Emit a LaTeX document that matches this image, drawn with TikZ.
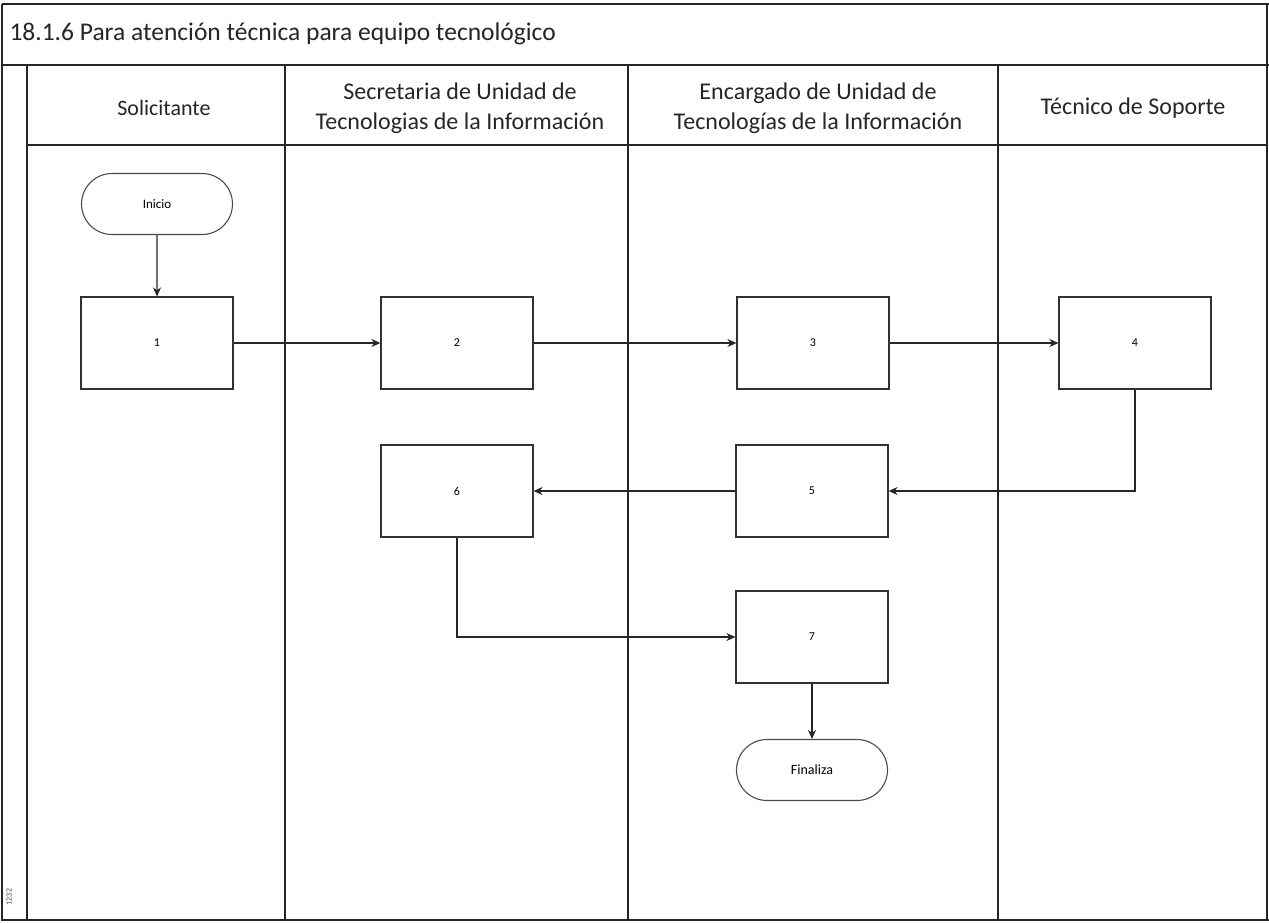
\documentclass[tikz,border=0pt]{standalone}
\usepackage{fontspec}
\setmainfont{Carlito}
\usetikzlibrary{arrows.meta,shapes.misc}
\begin{document}
\begin{tikzpicture}[x=1pt,y=-1pt,
  frame/.style={draw=black!85,line width=1.6pt},
  lane/.style={draw=black!85,line width=1.4pt},
  box/.style={draw=black!80,line width=1.2pt,minimum width=152pt,minimum height=92pt,inner sep=0pt,font=\fontsize{12}{14}\selectfont},
  term/.style={draw=black!70,line width=1.1pt,rounded rectangle,minimum width=151pt,minimum height=61pt,inner sep=0pt,font=\fontsize{13}{15}\selectfont},
  flow/.style={draw=black!85,line width=1.3pt,-{Stealth[length=9pt,width=8pt]}},
  head/.style={font=\fontsize{24}{30}\selectfont,align=center,text=black!85}]
\useasboundingbox (0,0) rectangle (1269,922);
\fill[white] (0,0) rectangle (1269,922);
% outer frame
\draw[frame] (2,4) -- (1269,4);
\draw[frame] (2,4) -- (2,920) -- (1269,920);
\draw[frame] (1267,4) -- (1267,920);
\draw[frame] (2,65) -- (1269,65);
\node[anchor=west,font=\fontsize{25.5}{30}\selectfont,text=black!85] (title) at (6,34) {18.1.6 Para atención técnica para equipo tecnológico};
% lanes
\draw[lane] (27,65) -- (27,920);
\draw[lane] (27,145) -- (1267,145);
\draw[lane] (285,65) -- (285,920);
\draw[lane] (628,65) -- (628,920);
\draw[lane] (998,65) -- (998,920);
\node[head,font=\fontsize{22}{28}\selectfont] (h1) at (164,108) {Solicitante};
\node[head] (h2) at (460,108) {Secretaria de Unidad de\\Tecnologias de la Información};
\node[head] (h3) at (818,108) {Encargado de Unidad de\\Tecnologías de la Información};
\node[head] (h4) at (1133,108) {Técnico de Soporte};
\node[rotate=90,font=\fontsize{8}{9}\selectfont,text=black!70] (pg) at (9,897) {1232};
% nodes
\node[term] (ini) at (157,204) {Inicio};
\node[box] (b1) at (157,343) {1};
\node[box] (b2) at (457,343) {2};
\node[box] (b3) at (813,343) {3};
\node[box] (b4) at (1135,343) {4};
\node[box] (b6) at (457,491) {6};
\node[box] (b5) at (812,491) {5};
\node[box] (b7) at (812,637) {7};
\node[term,font=\fontsize{14}{16}\selectfont] (fin) at (812,770) {Finaliza};
% connectors
\draw[flow] (ini) -- (b1);
\draw[flow] (b1) -- (b2);
\draw[flow] (b2) -- (b3);
\draw[flow] (b3) -- (b4);
\draw[flow] (b4.south) |- (b5.east);
\draw[flow] (b5) -- (b6);
\draw[flow] (b6.south) |- (b7.west);
\draw[flow] (b7) -- (fin);
\end{tikzpicture}
\end{document}
